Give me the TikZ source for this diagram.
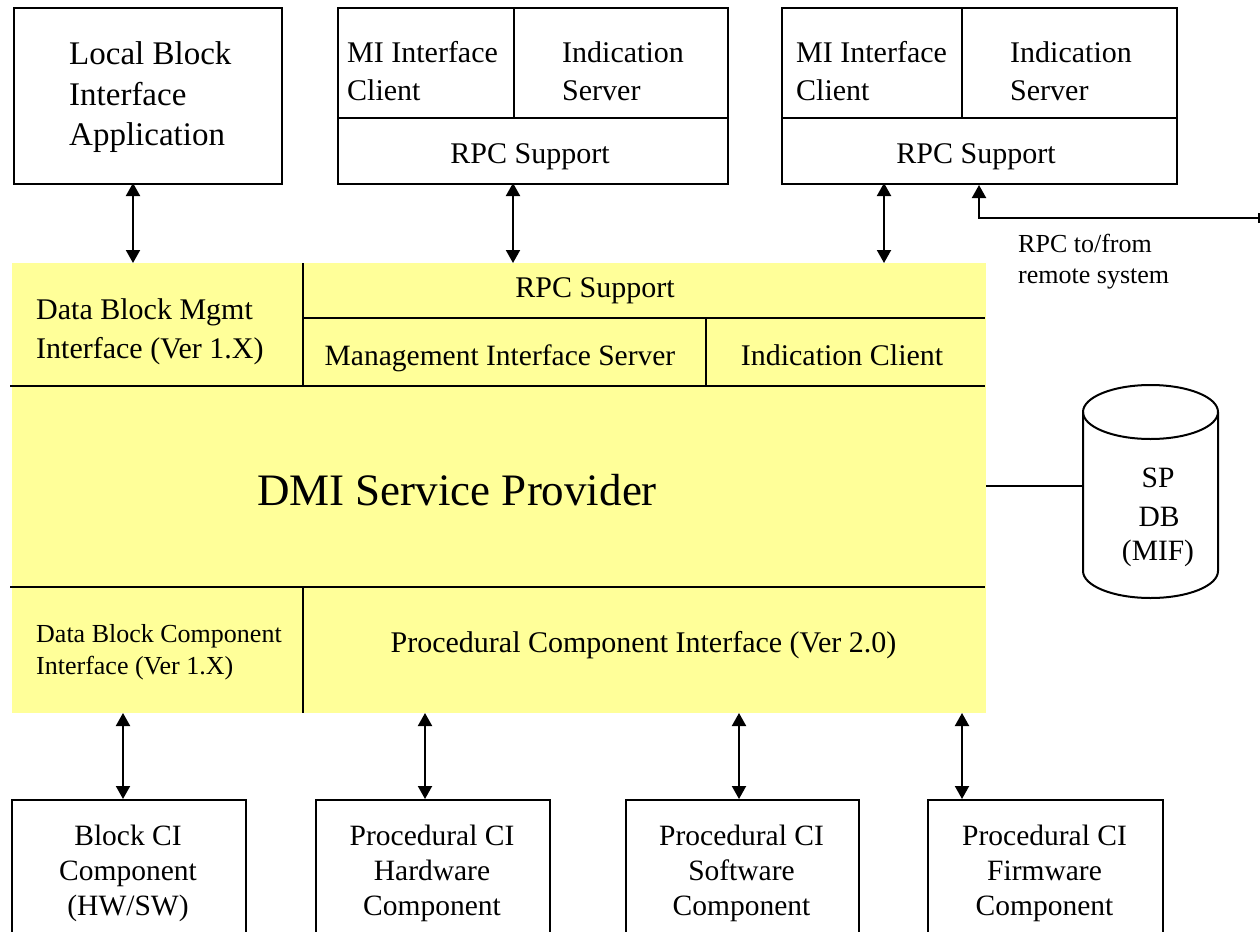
\documentclass[tikz,border=0pt]{standalone}
\usepackage{fontspec}
\setmainfont{Liberation Serif}
\usetikzlibrary{arrows.meta}
\definecolor{spyellow}{RGB}{255,255,153}
\begin{document}
\begin{tikzpicture}[x=1pt,y=-1pt,
  frame/.style={draw, line width=2pt, inner sep=0pt, anchor=north west},
  ln/.style={line width=2pt},
  biarrow/.style={line width=2pt, {Triangle[length=13pt,width=14pt]}-{Triangle[length=13pt,width=14pt]}},
  uparrow/.style={line width=2pt, -{Triangle[length=13pt,width=14pt]}},
  fA/.style={inner sep=0pt, font=\fontsize{33pt}{40pt}\selectfont},
  fB/.style={inner sep=0pt, font=\fontsize{30pt}{36pt}\selectfont},
  fC/.style={inner sep=0pt, font=\fontsize{29.5pt}{35pt}\selectfont},
  fD/.style={inner sep=0pt, font=\fontsize{26pt}{31pt}\selectfont},
  fE/.style={inner sep=0pt, font=\fontsize{45pt}{54pt}\selectfont}]
\path[use as bounding box, clip] (0,0) rectangle (1260,931);

% yellow service provider area
\node[fill=spyellow, inner sep=0pt, minimum width=974pt, minimum height=450pt, anchor=north west] (sp) at (12,263) {};
\draw[ln] (10,386) -- (985,386);
\draw[ln] (303,263) -- (303,386);
\draw[ln] (303,318) -- (985,318);
\draw[ln] (706,318) -- (706,386);
\draw[ln] (10,587) -- (985,587);
\draw[ln] (303,587) -- (303,713);

% top boxes
\node[frame, minimum width=268pt, minimum height=176pt] (lbi) at (13,7) {};
\node[frame, minimum width=176pt, minimum height=110pt] (a2) at (337,7) {};
\node[frame, minimum width=214pt, minimum height=110pt] (b2) at (513,7) {};
\node[frame, minimum width=390pt, minimum height=66pt] (c2) at (337,117) {};
\node[frame, minimum width=180pt, minimum height=110pt] (a3) at (781,7) {};
\node[frame, minimum width=215pt, minimum height=110pt] (b3) at (961,7) {};
\node[frame, minimum width=395pt, minimum height=66pt] (c3) at (781,117) {};

% bottom boxes
\node[frame, minimum width=234pt, minimum height=200pt] (k1) at (11,799) {};
\node[frame, minimum width=234pt, minimum height=200pt] (k2) at (315,799) {};
\node[frame, minimum width=233pt, minimum height=200pt] (k3) at (625,799) {};
\node[frame, minimum width=235pt, minimum height=200pt] (k4) at (927,799) {};

% database cylinder
\draw[ln] (1083,412) -- (1083,571) arc[start angle=180, end angle=360, x radius=67.5pt, y radius=27pt] -- (1218,412);
\draw[ln] (1150.5,412) ellipse [x radius=67.5pt, y radius=27pt];
\coordinate (db) at (1083,486);
\draw[ln] (sp.east |- db) -- (db);

% arrows top
\coordinate (t1) at (133,183);
\coordinate (t2) at (513,183);
\coordinate (t3) at (884,183);
\draw[biarrow] (t1) -- (t1 |- sp.north);
\draw[biarrow] (t2) -- (t2 |- sp.north);
\draw[biarrow] (t3) -- (t3 |- sp.north);

% arrows bottom
\coordinate (u1) at (123,713);
\coordinate (u2) at (425,713);
\coordinate (u3) at (739,713);
\coordinate (u4) at (962,713);
\draw[biarrow] (u1) -- (u1 |- k1.north);
\draw[biarrow] (u2) -- (u2 |- k2.north);
\draw[biarrow] (u3) -- (u3 |- k3.north);
\draw[biarrow] (u4) -- (u4 |- k4.north);

% remote connection
\coordinate (rem) at (1259,218);
\coordinate (rup) at (979,218);
\draw[uparrow] (rem) -- (rup) -- (rup |- c3.south);
\draw[ln] (1259,213) -- (1259,223);
\node[fD, anchor=base west] (rt1) at (1018,252) {RPC to/from};
\node[fD, anchor=base west] (rt2) at (1018,283) {remote system};

% texts top
\node[fA, anchor=base west] (l1) at (69,65) {Local Block};
\node[fA, anchor=base west] (l2) at (69,106) {Interface};
\node[fA, anchor=base west] (l3) at (69,146) {Application};

\node[fB, anchor=base west] (m21) at (347,63) {MI Interface};
\node[fB, anchor=base west] (m22) at (347,101) {Client};
\node[fB, anchor=base west] (i21) at (562,63) {Indication};
\node[fB, anchor=base west] (i22) at (562,101) {Server};
\node[fB, anchor=base] (r2) at (530,163) {RPC Support};

\node[fB, anchor=base west] (m31) at (796,63) {MI Interface};
\node[fB, anchor=base west] (m32) at (796,101) {Client};
\node[fB, anchor=base west] (i31) at (1010,63) {Indication};
\node[fB, anchor=base west] (i32) at (1010,101) {Server};
\node[fB, anchor=base] (r3) at (976,163) {RPC Support};

% texts yellow
\node[fB, anchor=base west] (dm1) at (36,319) {Data Block Mgmt};
\node[fB, anchor=base west] (dm2) at (36,358) {Interface (Ver 1.X)};
\node[fB, anchor=base] (rs) at (595,297) {RPC Support};
\node[fC, anchor=base] (mis) at (500,365) {Management Interface Server};
\node[fB, anchor=base] (ic) at (842,365) {Indication Client};
\node[fE, anchor=base] (dmi) at (457,505) {DMI Service Provider};
\node[fD, anchor=base west] (dc1) at (36,642) {Data Block Component};
\node[fD, anchor=base west] (dc2) at (36,674) {Interface (Ver 1.X)};
\node[fB, anchor=base] (pci) at (643.5,652) {Procedural Component Interface (Ver 2.0)};

% database text
\node[fC, anchor=base] (db1) at (1158,487) {SP};
\node[fC, anchor=base] (db2) at (1159,526) {DB};
\node[fC, anchor=base] (db3) at (1158,560) {(MIF)};

% bottom texts
\node[fC, anchor=base] (k1a) at (128,845) {Block CI};
\node[fC, anchor=base] (k1b) at (128,880) {Component};
\node[fC, anchor=base] (k1c) at (128,915) {(HW/SW)};
\node[fC, anchor=base] (k2a) at (432,845) {Procedural CI};
\node[fC, anchor=base] (k2b) at (432,880) {Hardware};
\node[fC, anchor=base] (k2c) at (432,915) {Component};
\node[fC, anchor=base] (k3a) at (741.5,845) {Procedural CI};
\node[fC, anchor=base] (k3b) at (741.5,880) {Software};
\node[fC, anchor=base] (k3c) at (741.5,915) {Component};
\node[fC, anchor=base] (k4a) at (1044.5,845) {Procedural CI};
\node[fC, anchor=base] (k4b) at (1044.5,880) {Firmware};
\node[fC, anchor=base] (k4c) at (1044.5,915) {Component};
\end{tikzpicture}
\end{document}
